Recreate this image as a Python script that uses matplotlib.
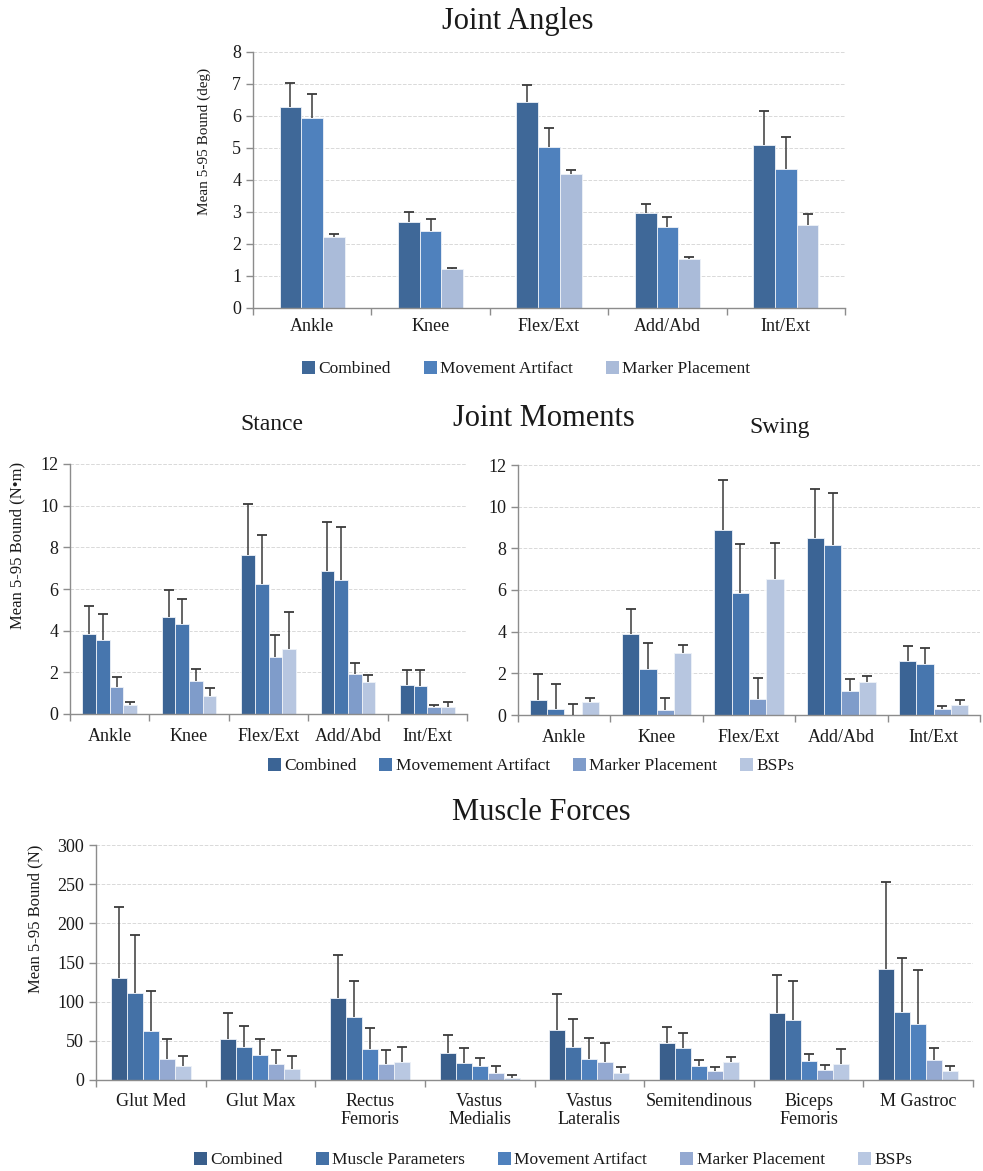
import numpy as np
import matplotlib.pyplot as plt
from matplotlib.patches import Patch

plt.rcParams['font.family'] = ['Liberation Serif', 'DejaVu Serif']

# joint angles (deg): bar = mean bound, upper = top of error bar
angle_cats = ['Ankle', 'Knee', 'Flex/Ext', 'Add/Abd', 'Int/Ext']
angle_names = ['Combined', 'Movement Artifact', 'Marker Placement']
angle_comb = [6.28, 2.69, 6.45, 2.96, 5.10]
angle_comb_up = [7.02, 3.00, 6.98, 3.25, 6.15]
angle_move = [5.94, 2.42, 5.04, 2.53, 4.34]
angle_move_up = [6.70, 2.78, 5.64, 2.84, 5.34]
angle_mark = [2.21, 1.21, 4.18, 1.52, 2.60]
angle_mark_up = [2.31, 1.25, 4.31, 1.60, 2.95]

# joint moments (N*m), stance and swing
mom_cats = ['Ankle', 'Knee', 'Flex/Ext', 'Add/Abd', 'Int/Ext']
mom_names = ['Combined', 'Movemement Artifact', 'Marker Placement', 'BSPs']
st_comb = [3.85, 4.66, 7.64, 6.85, 1.39]
st_comb_up = [5.19, 5.93, 10.06, 9.23, 2.12]
st_move = [3.53, 4.31, 6.26, 6.45, 1.33]
st_move_up = [4.78, 5.50, 8.61, 8.99, 2.09]
st_mark = [1.29, 1.57, 2.73, 1.92, 0.35]
st_mark_up = [1.76, 2.16, 3.80, 2.44, 0.45]
st_bsp = [0.43, 0.88, 3.12, 1.52, 0.35]
st_bsp_up = [0.56, 1.23, 4.89, 1.87, 0.56]

sw_comb = [0.72, 3.89, 8.86, 8.50, 2.58]
sw_comb_up = [1.99, 5.11, 11.28, 10.85, 3.30]
sw_move = [0.27, 2.22, 5.84, 8.17, 2.47]
sw_move_up = [1.50, 3.45, 8.19, 10.66, 3.22]
sw_mark = [0.02, 0.22, 0.77, 1.16, 0.27]
sw_mark_up = [0.53, 0.83, 1.80, 1.71, 0.41]
sw_bsp = [0.62, 3.00, 6.51, 1.58, 0.48]
sw_bsp_up = [0.80, 3.35, 8.28, 1.88, 0.70]

# muscle forces (N)
mus_cats = ['Glut Med', 'Glut Max', 'Rectus\nFemoris', 'Vastus\nMedialis',
            'Vastus\nLateralis', 'Semitendinous', 'Biceps\nFemoris', 'M Gastroc']
mus_names = ['Combined', 'Muscle Parameters', 'Movement Artifact',
             'Marker Placement', 'BSPs']
mus_comb = [130.6, 52.3, 104.3, 34.5, 63.8, 47.7, 85.1, 141.3]
mus_comb_up = [220.9, 85.1, 159.1, 57.0, 109.8, 68.1, 133.6, 253.2]
mus_par = [110.6, 42.6, 80.4, 21.7, 42.1, 40.4, 77.0, 86.8]
mus_par_up = [184.7, 68.9, 126.0, 40.4, 77.9, 59.6, 126.8, 155.7]
mus_move = [63.0, 31.5, 39.1, 17.4, 27.2, 17.4, 24.3, 71.9]
mus_move_up = [113.6, 52.8, 66.0, 27.7, 54.0, 25.1, 33.2, 140.0]
mus_mark = [26.8, 20.9, 20.4, 8.5, 23.0, 11.1, 13.2, 26.0]
mus_mark_up = [52.3, 37.9, 38.7, 17.4, 47.7, 17.0, 19.1, 40.9]
mus_bsp = [17.4, 14.5, 23.0, 3.0, 8.9, 23.0, 20.9, 11.5]
mus_bsp_up = [31.1, 31.1, 41.7, 6.0, 16.2, 28.9, 39.1, 18.3]

W, H = 983, 1171
fig = plt.figure(figsize=(W / 100, H / 100), dpi=100)

AXIS_GRAY = '#8c8c8c'
TXT = '#1a1a1a'


def px_axes(l, t, r, b):
    return fig.add_axes([l / W, 1 - b / H, (r - l) / W, (b - t) / H])


def grouped(ax, cats, means, uppers, colors, frac, ymax, ystep, pad):
    x = np.arange(len(cats))
    w = frac / len(means)
    for i, (m, u, c) in enumerate(zip(means, uppers, colors)):
        m = np.array(m)
        u = np.array(u)
        pos = x - frac / 2 + w * (i + 0.5)
        ax.bar(pos, m, w, color=c, edgecolor='#eef2f8', linewidth=0.6, zorder=2)
        ax.vlines(pos, m, u, color='#3a3a3a', lw=1.1, zorder=3)
        ax.plot(pos, u, ls='none', marker='_', ms=7, mew=1.3, color='#3a3a3a', zorder=3)
    ax.set_xlim(-0.5, len(cats) - 0.5)
    ax.set_ylim(0, ymax)
    ax.set_yticks(np.arange(0, ymax + ystep / 2, ystep))
    ax.set_xticks(x)
    ax.set_xticklabels(cats)
    ax.set_xticks(np.arange(len(cats) + 1) - 0.5, minor=True)
    ax.tick_params(axis='x', which='major', length=0, pad=pad, labelsize=13, labelcolor=TXT)
    ax.tick_params(axis='x', which='minor', length=5, color=AXIS_GRAY, width=1)
    ax.tick_params(axis='y', length=5, color=AXIS_GRAY, width=1, labelsize=13, labelcolor=TXT)
    ax.yaxis.grid(True, color='#d9d9d9', ls='--', lw=0.7, zorder=0)
    ax.set_axisbelow(True)
    for s in ['top', 'right']:
        ax.spines[s].set_visible(False)
    for s in ['left', 'bottom']:
        ax.spines[s].set_color(AXIS_GRAY)
        ax.spines[s].set_linewidth(1)


def legend(names, colors, cx, cy, spacing):
    handles = [Patch(facecolor=c, edgecolor='none') for c in colors]
    fig.legend(handles, names, loc='center', bbox_to_anchor=(cx / W, 1 - cy / H),
               ncol=len(names), frameon=False, fontsize=12.5, handlelength=0.75,
               handleheight=0.75, handletextpad=0.2, columnspacing=spacing,
               labelcolor=TXT)


# Joint angles
top_colors = ['#3f6898', '#4f81bd', '#aabbd9']
ax1 = px_axes(253, 52, 845, 308)
grouped(ax1, angle_cats, [angle_comb, angle_move, angle_mark],
        [angle_comb_up, angle_move_up, angle_mark_up], top_colors, 0.55, 8, 1, 7)
ax1.set_ylabel('Mean 5-95 Bound (deg)', fontsize=11, color=TXT)
ax1.yaxis.set_label_coords(-0.071, 0.65)
fig.text(518 / W, 1 - 22 / H, 'Joint Angles', ha='center', va='center', fontsize=22, color=TXT)
legend(angle_names, top_colors, 526, 369, 1.9)

# Joint moments
mom_colors = ['#3b6495', '#4776ae', '#7f9cca', '#b7c6e0']
ax2 = px_axes(70, 464, 467, 714)
grouped(ax2, mom_cats, [st_comb, st_move, st_mark, st_bsp],
        [st_comb_up, st_move_up, st_mark_up, st_bsp_up], mom_colors, 0.69, 12, 2, 10)
ax2.set_ylabel('Mean 5-95 Bound (N\u2022m)', fontsize=12, color=TXT)
ax2.yaxis.set_label_coords(-0.113, 0.676)

ax3 = px_axes(518, 465, 980, 715)
grouped(ax3, mom_cats, [sw_comb, sw_move, sw_mark, sw_bsp],
        [sw_comb_up, sw_move_up, sw_mark_up, sw_bsp_up], mom_colors, 0.75, 12, 2, 10)

fig.text(544 / W, 1 - 418 / H, 'Joint Moments', ha='center', va='center', fontsize=22, color=TXT)
fig.text(272 / W, 1 - 425 / H, 'Stance', ha='center', va='center', fontsize=17, color=TXT)
fig.text(780 / W, 1 - 428 / H, 'Swing', ha='center', va='center', fontsize=17, color=TXT)
legend(mom_names, mom_colors, 531, 766, 1.3)

# Muscle forces
mus_colors = ['#3a5f8c', '#4471a6', '#4f81bd', '#94a9d1', '#b9c8e2']
ax4 = px_axes(96, 845, 973, 1080)
grouped(ax4, mus_cats, [mus_comb, mus_par, mus_move, mus_mark, mus_bsp],
        [mus_comb_up, mus_par_up, mus_move_up, mus_mark_up, mus_bsp_up],
        mus_colors, 0.73, 300, 50, 9)
for lab in ax4.get_xticklabels():
    lab.set_linespacing(1.15)
ax4.set_ylabel('Mean 5-95 Bound (N)', fontsize=12, color=TXT)
ax4.yaxis.set_label_coords(-0.06, 0.685)
fig.text(541 / W, 1 - 812 / H, 'Muscle Forces', ha='center', va='center', fontsize=22, color=TXT)
legend(mus_names, mus_colors, 553, 1160, 1.9)

fig.savefig('out.png', dpi=100)
